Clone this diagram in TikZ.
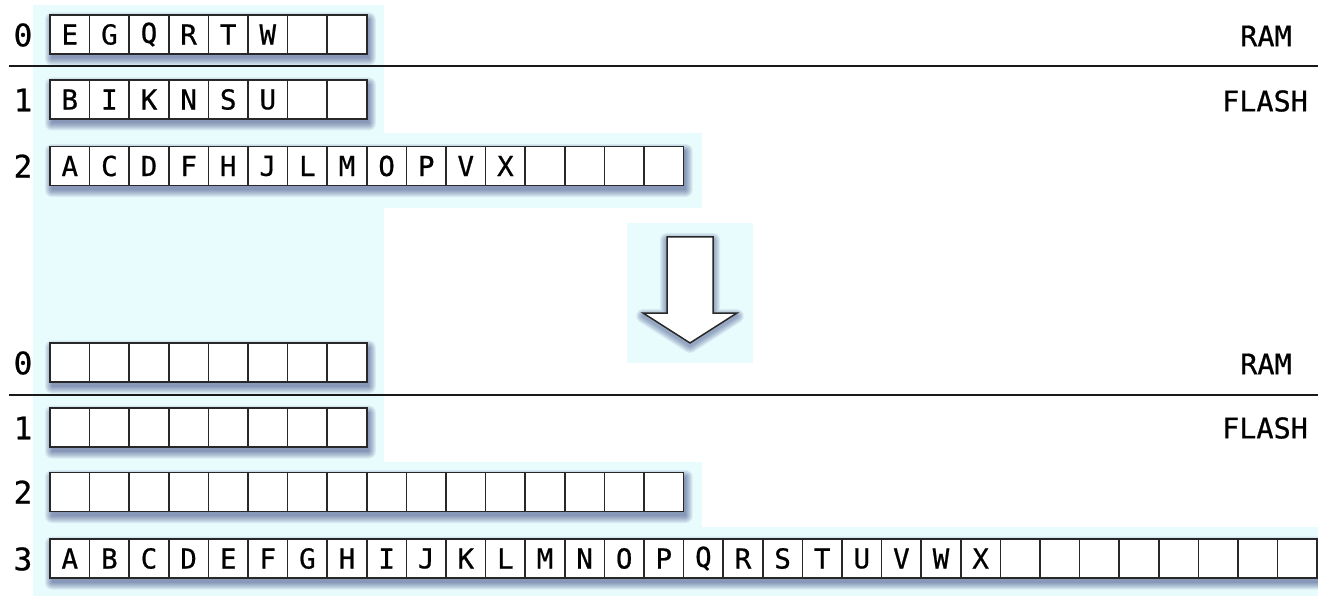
\documentclass[tikz,border=0pt]{standalone}
\usepackage{fontspec}
\newfontfamily\monofnt{DejaVu Sans Mono}[FakeBold=0.7]
\definecolor{bgcyan}{RGB}{232,251,253}
\definecolor{shadowblue}{RGB}{30,45,110}
\definecolor{edgegray}{RGB}{40,40,40}
\tikzset{
  cell/.style={draw=edgegray, line width=1.5pt, fill=white, minimum width=39.6pt,
    minimum height=39pt, inner sep=0pt, font=\monofnt\fontsize{27.5}{30}\selectfont},
  shadowlayer/.style={fill=shadowblue, fill opacity=0.075},
  rowlabel/.style={font=\monofnt\fontsize{31}{34}\selectfont, inner sep=0pt},
  memlabel/.style={font=\monofnt\fontsize{28.5}{32}\selectfont, inner sep=0pt},
  sepline/.style={line width=2.4pt, draw=black!90},
  bigarrow/.style={draw=edgegray, line width=1.5pt, line join=miter, fill=white},
  arrowglow/.style={draw=shadowblue, draw opacity=0.07, line join=round}
}
\newcommand\cellrow[4]{%
  \foreach \k in {0,...,7}{
    \fill[shadowlayer, rounded corners=\k pt] ({50+2-\k},{#2-19.5+4.5-\k}) rectangle ({50+#3*39.6+2+\k},{#2+19.5+4.5+\k});
  }
  \foreach \l [count=\i] in {#4} {
    \node[cell] (#1c\i) at ({50+(\i-0.5)*39.6},#2) {\l};
  }
}
\begin{document}
\begin{tikzpicture}[x=1pt,y=-1pt]
\useasboundingbox (0,0) rectangle (1318,596);
% background regions
\fill[bgcyan] (33,5) rectangle (384,596);
\fill[bgcyan] (33,133) rectangle (702,208);
\fill[bgcyan] (627,223) rectangle (753,363);
\fill[bgcyan] (33,462) rectangle (702,527);
\fill[bgcyan] (33,527) rectangle (1318,596);
% separators
\coordinate (s1a) at (9,66);
\coordinate (s1b) at (1318,66);
\coordinate (s2a) at (9,395);
\coordinate (s2b) at (1318,395);
\draw[sepline] (s1a) -- (s1b);
\draw[sepline] (s2a) -- (s2b);
% top state
\node[rowlabel] (ta0) at (23,35) {0};
\node[rowlabel] (ta1) at (23,100) {1};
\node[rowlabel] (ta2) at (23,166) {2};
\cellrow{ta}{34.5}{8}{E,G,Q,R,T,W,{},{}}
\cellrow{tb}{99.5}{8}{B,I,K,N,S,U,{},{}}
\cellrow{tc}{166}{16}{A,C,D,F,H,J,L,M,O,P,V,X,{},{},{},{}}
\node[memlabel] (tram) at (1266,36) {RAM};
\node[memlabel] (tflash) at (1265,101) {FLASH};
% arrow
\foreach \k in {1,...,7}{
  \draw[arrowglow, line width=2*\k pt] (667,240) -- (713,240) -- (713,316) -- (737,316) -- (690,346) -- (643,316) -- (667,316) -- cycle;
}
\path[bigarrow] (667,237) -- (713,237) -- (713,313) -- (737,313) -- (690,343) -- (643,313) -- (667,313) -- cycle;
% bottom state
\node[rowlabel] (ba0) at (23,363) {0};
\node[rowlabel] (ba1) at (23,428) {1};
\node[rowlabel] (ba2) at (23,492) {2};
\node[rowlabel] (ba3) at (23,559) {3};
\cellrow{ba}{362.5}{8}{{},{},{},{},{},{},{},{}}
\cellrow{bb}{427.5}{8}{{},{},{},{},{},{},{},{}}
\cellrow{bc}{492}{16}{{},{},{},{},{},{},{},{},{},{},{},{},{},{},{},{}}
\cellrow{bd}{558.5}{32}{A,B,C,D,E,F,G,H,I,J,K,L,M,N,O,P,Q,R,S,T,U,V,W,X,{},{},{},{},{},{},{},{}}
\node[memlabel] (bram) at (1266,364) {RAM};
\node[memlabel] (bflash) at (1265,428) {FLASH};
\end{tikzpicture}
\end{document}
